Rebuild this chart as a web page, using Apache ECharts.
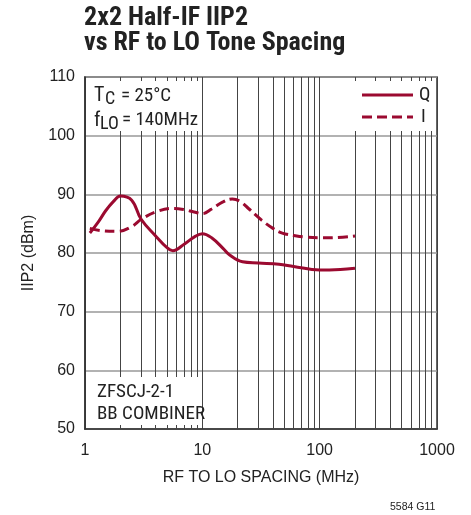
<!DOCTYPE html>
<html><head><meta charset="utf-8">
<script src="https://cdn.jsdelivr.net/npm/echarts@6/dist/echarts.min.js"></script>
<style>html,body{margin:0;padding:0;background:#fff}#c{width:471px;height:515px}</style>
</head><body><div id="c"></div>
<script>
const NARROW = "'Roboto Condensed','Liberation Sans Narrow','Liberation Sans',Arial,sans-serif";
const REG = "'Liberation Sans',Arial,sans-serif";
const RED = '#9b0a30';
// Q (solid)
const qX = [1.1, 1.3, 1.5, 1.75, 2, 2.5, 3, 4, 5, 5.6, 7, 8.5, 10, 12, 15, 17, 22, 30, 45, 60, 100, 150, 200];
const qY = [83.4, 85.3, 87.2, 88.8, 89.7, 89.0, 85.8, 82.9, 80.9, 80.4, 81.5, 82.7, 83.3, 82.6, 80.8, 79.7, 78.5, 78.3, 78.1, 77.7, 77.1, 77.2, 77.4];
// I (dashed)
const iX = [1.1, 1.4, 1.9, 2.5, 3, 4, 5.6, 7, 8.5, 10, 12, 15, 18, 21, 25, 32, 40, 48, 60, 76, 100, 120, 200];
const iY = [84.2, 83.8, 83.7, 84.5, 85.7, 87.0, 87.6, 87.4, 87.0, 86.7, 87.5, 88.7, 89.2, 88.8, 87.5, 85.6, 84.2, 83.4, 83.0, 82.7, 82.6, 82.6, 82.9];
const xMinorLines = [2,3,4,5,6,7,8,9,20,30,40,50,60,70,80,90,200,300,400,500,600,700,800,900];
const yTicks = {min: 50, max: 110, interval: 10};
const xRange = {min: 1, max: 1000};

const pair = (xs, ys) => xs.map((x, k) => [x, ys[k]]);
const txt = (x, y, text, font) => ({
  type: 'text', z: 10, x: x, y: y,
  style: {text: text, font: font, fill: '#222', verticalAlign: 'middle', align: 'left'}
});

const chart = echarts.init(document.getElementById('c'), null, {renderer: 'canvas'});
chart.setOption({
  animation: false,
  backgroundColor: '#fff',
  textStyle: {fontFamily: REG},
  grid: {left: 85, top: 77, right: 34, bottom: 86, show: true, borderColor: '#333', borderWidth: 1.5, backgroundColor: 'transparent'},
  xAxis: {
    type: 'log', logBase: 10, min: xRange.min, max: xRange.max,
    name: 'RF TO LO SPACING (MHz)', nameLocation: 'middle', nameGap: 41,
    nameTextStyle: {fontSize: 16, color: '#222', fontFamily: REG},
    axisLine: {show: true, lineStyle: {color: '#333', width: 1.5}},
    axisTick: {show: false},
    axisLabel: {fontSize: 16, color: '#222', margin: 14, fontFamily: REG, formatter: v => String(v)},
    splitLine: {show: true, lineStyle: {color: '#444', width: 1}}
  },
  yAxis: {
    type: 'value', min: yTicks.min, max: yTicks.max, interval: yTicks.interval,
    name: 'IIP2 (dBm)', nameLocation: 'middle', nameGap: 48,
    nameTextStyle: {fontSize: 16, color: '#222', fontFamily: REG},
    axisLine: {show: true, lineStyle: {color: '#333', width: 1.5}},
    axisTick: {show: false},
    axisLabel: {fontSize: 16, color: '#222', margin: 10, fontFamily: REG},
    splitLine: {show: true, lineStyle: {color: '#999', width: 1.5}}
  },
  series: [
    {
      type: 'line', z: 1, data: [[1, 50]], symbol: 'none', silent: true,
      lineStyle: {opacity: 0},
      markLine: {
        z: 1, silent: true, symbol: 'none', animation: false,
        label: {show: false},
        lineStyle: {color: '#444', width: 1, type: 'solid'},
        emphasis: {disabled: true},
        data: xMinorLines.map(v => ({xAxis: v}))
      }
    },
    {
      name: 'Q', type: 'line', z: 7, data: pair(qX, qY), smooth: 0.4, symbol: 'none',
      lineStyle: {color: RED, width: 3}
    },
    {
      name: 'I', type: 'line', z: 7, data: pair(iX, iY), smooth: 0.4, symbol: 'none',
      lineStyle: {color: RED, width: 3, type: [10, 5]}
    }
  ],
  graphic: [
    {type: 'rect', z: 6, shape: {x: 86, y: 81, width: 114, height: 50}, style: {fill: '#fff'}},
    {type: 'rect', z: 6, shape: {x: 353, y: 81, width: 83, height: 50}, style: {fill: '#fff'}},
    {type: 'rect', z: 6, shape: {x: 86, y: 377, width: 114, height: 48}, style: {fill: '#fff'}},
    txt(84, 18, '2x2 Half-IF IIP2', 'bold 26px ' + NARROW),
    txt(84, 43, 'vs RF to LO Tone Spacing', 'bold 26px ' + NARROW),
    txt(94, 96, 'T', '20px ' + NARROW),
    txt(105, 99, 'C', '18px ' + NARROW),
    txt(121, 96, '= 25°C', '19px ' + NARROW),
    txt(94, 120.5, 'f', '20px ' + NARROW),
    txt(100, 124, 'LO', '18px ' + NARROW),
    txt(122, 120.5, '= 140MHz', '19px ' + NARROW),
    txt(97, 392, 'ZFSCJ-2-1', '19px ' + NARROW),
    txt(97, 414, 'BB COMBINER', '19px ' + NARROW),
    {type: 'line', z: 10, shape: {x1: 362, y1: 95, x2: 413, y2: 95}, style: {stroke: RED, lineWidth: 3}},
    {type: 'line', z: 10, shape: {x1: 362, y1: 117, x2: 413, y2: 117}, style: {stroke: RED, lineWidth: 3, lineDash: [10, 5]}},
    txt(419, 95, 'Q', '19px ' + NARROW),
    txt(421, 117, 'I', '19px ' + NARROW),
    txt(390, 507, '5584 G11', '10.5px ' + REG)
  ]
});
</script></body></html>
